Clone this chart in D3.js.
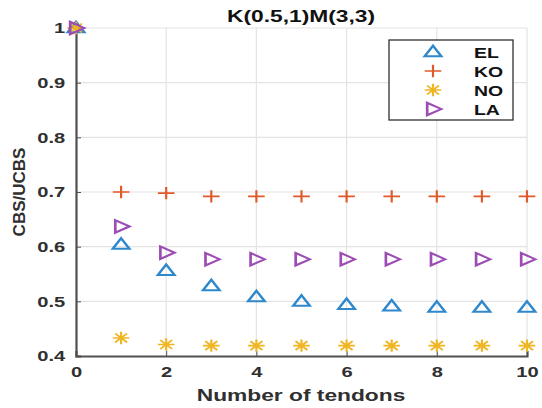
<!DOCTYPE html>
<html lang="en">
<head>
<meta charset="UTF-8">
<title>K(0.5,1)M(3,3)</title>
<script src="https://d3js.org/d3.v7.min.js"></script>
<style>
  body { margin: 0; background: #fff; }
  text { font-family: "Liberation Sans", Arial, sans-serif; font-weight: bold; }
</style>
</head>
<body>
<script>
    // data
    var tendons = [0, 1, 2, 3, 4, 5, 6, 7, 8, 9, 10];
    var EL = [1, 0.604, 0.556, 0.528, 0.508, 0.500, 0.494, 0.491, 0.489, 0.489, 0.489];
    var KO = [1, 0.700, 0.698, 0.692, 0.692, 0.692, 0.692, 0.692, 0.692, 0.692, 0.692];
    var NO = [1, 0.433, 0.421, 0.419, 0.419, 0.419, 0.419, 0.419, 0.419, 0.419, 0.419];
    var LA = [1, 0.637, 0.589, 0.577, 0.577, 0.577, 0.577, 0.577, 0.577, 0.577, 0.577];
    var xTicks = [0, 2, 4, 6, 8, 10];
    var yTicks = [0.4, 0.5, 0.6, 0.7, 0.8, 0.9, 1];

    var series = [
        { name: 'EL', values: EL, color: '#2f88cc', marker: 'up' },
        { name: 'KO', values: KO, color: '#e0592a', marker: 'plus' },
        { name: 'NO', values: NO, color: '#efb522', marker: 'star' },
        { name: 'LA', values: LA, color: '#9b4db3', marker: 'right' }
    ];

    // the picture is stretched sideways, so text and markers get a wider scale
    var stretch = 1.34;

    var width = 542, height = 408;
    var margin = { left: 76, right: 15, top: 28, bottom: 52 };

    var svg = d3.select('body').append('svg')
        .attr('width', width)
        .attr('height', height);

    var x = d3.scaleLinear().domain([0, 10]).range([margin.left, width - margin.right]);
    var y = d3.scaleLinear().domain([0.4, 1]).range([height - margin.bottom, margin.top]);

    // grid
    svg.append('g').selectAll('line')
        .data(xTicks.slice(1))
        .enter().append('line')
        .attr('x1', d => x(d)).attr('x2', d => x(d))
        .attr('y1', y(0.4)).attr('y2', y(1))
        .attr('stroke', '#e3e3e3').attr('stroke-width', 1.2);
    svg.append('g').selectAll('line')
        .data(yTicks.slice(1))
        .enter().append('line')
        .attr('x1', x(0)).attr('x2', x(10))
        .attr('y1', d => y(d)).attr('y2', d => y(d))
        .attr('stroke', '#e3e3e3').attr('stroke-width', 1.2);

    // axes
    var xAxis = svg.append('g')
        .attr('transform', 'translate(0,' + y(0.4) + ')')
        .call(d3.axisBottom(x).tickValues(xTicks).tickSize(-5).tickPadding(12).tickFormat(d3.format('d')));
    var yAxis = svg.append('g')
        .attr('transform', 'translate(' + x(0) + ',0)')
        .call(d3.axisLeft(y).tickValues(yTicks).tickSize(-5).tickPadding(8).tickFormat(d => d === 1 ? '1' : d3.format('.1f')(d)));

    [xAxis, yAxis].forEach(function(ax) {
        ax.select('.domain').attr('stroke', '#505050').attr('stroke-width', 2.2);
        ax.selectAll('.tick line').attr('stroke', '#505050').attr('stroke-width', 1);
        ax.selectAll('.tick text')
            .attr('fill', '#303030')
            .attr('transform', 'scale(' + stretch + ',1)')
            .style('font-size', '15px')
            .style('font-weight', 'bold');
    });
    xAxis.selectAll('.tick text').attr('dy', '0.6em');

    // labels
    svg.append('text')
        .attr('transform', 'translate(301,22) scale(' + stretch + ',1)')
        .attr('text-anchor', 'middle')
        .style('font-size', '17px')
        .attr('fill', '#111')
        .text('K(0.5,1)M(3,3)');

    svg.append('text')
        .attr('transform', 'translate(301,401) scale(' + stretch + ',1)')
        .attr('text-anchor', 'middle')
        .style('font-size', '17px')
        .attr('fill', '#303030')
        .text('Number of tendons');

    svg.append('text')
        .attr('transform', 'translate(25,' + ((y(0.4) + y(1)) / 2) + ') rotate(-90)')
        .attr('text-anchor', 'middle')
        .style('font-size', '17px')
        .attr('fill', '#303030')
        .text('CBS/UCBS');

    // marker drawing
    function drawMarker(g, type, color) {
        var s = 6.2;
        if (type === 'up') {
            g.append('path')
                .attr('d', 'M0,' + (-s) + 'L' + s + ',' + (s * 0.7) + 'L' + (-s) + ',' + (s * 0.7) + 'Z')
                .attr('fill', 'none').attr('stroke', color).attr('stroke-width', 2);
        } else if (type === 'right') {
            g.append('path')
                .attr('d', 'M' + s + ',0L' + (-s * 0.7) + ',' + (-s) + 'L' + (-s * 0.7) + ',' + s + 'Z')
                .attr('fill', 'none').attr('stroke', color).attr('stroke-width', 2);
        } else if (type === 'plus') {
            g.append('path')
                .attr('d', 'M' + (-s) + ',0H' + s + 'M0,' + (-s) + 'V' + s)
                .attr('fill', 'none').attr('stroke', color).attr('stroke-width', 1.6);
        } else if (type === 'star') {
            var d = s * 0.72;
            g.append('path')
                .attr('d', 'M' + (-s) + ',0H' + s + 'M0,' + (-s) + 'V' + s +
                    'M' + (-d) + ',' + (-d) + 'L' + d + ',' + d + 'M' + (-d) + ',' + d + 'L' + d + ',' + (-d))
                .attr('fill', 'none').attr('stroke', color).attr('stroke-width', 1.6);
        }
    }

    series.forEach(function(s) {
        var grp = svg.append('g').attr('class', 'series-' + s.name);
        grp.selectAll('g')
            .data(s.values)
            .enter().append('g')
            .attr('transform', function(d, i) {
                return 'translate(' + x(tendons[i]) + ',' + y(d) + ') scale(' + stretch + ',1)';
            })
            .each(function() {
                drawMarker(d3.select(this), s.marker, s.color);
            });
    });

    // legend
    var legend = svg.append('g').attr('transform', 'translate(389,40)');
    legend.append('rect')
        .attr('width', 124).attr('height', 80)
        .attr('fill', '#fff')
        .attr('stroke', '#303030').attr('stroke-width', 1.3);
    series.forEach(function(s, i) {
        var row = legend.append('g').attr('transform', 'translate(44,' + (12 + i * 19) + ')');
        drawMarker(row.append('g').attr('transform', 'scale(' + stretch + ',1)'), s.marker, s.color);
        row.append('text')
            .attr('transform', 'translate(41,5.5) scale(' + stretch + ',1)')
            .style('font-size', '14.5px')
            .attr('fill', '#111')
            .text(s.name);
    });
</script>
</body>
</html>
